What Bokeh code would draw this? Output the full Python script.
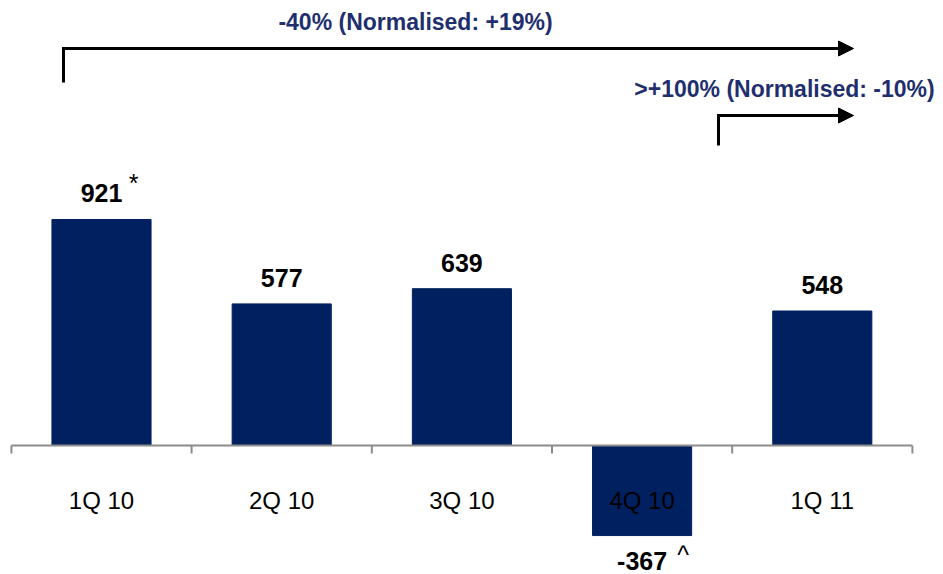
from bokeh.plotting import figure
from bokeh.models import Range1d, Arrow, NormalHead
from bokeh.core.properties import value
from bokeh.embed import file_html
from bokeh.resources import INLINE

# Quarterly result (in millions)
quarters = ["1Q 10", "2Q 10", "3Q 10", "4Q 10", "1Q 11"]
profit = [921, 577, 639, -367, 548]
notes = ["*", "", "", "^", ""]
change_year = "-40% (Normalised: +19%)"
change_quarter = ">+100% (Normalised: -10%)"

W, H = 943, 574
BAR_NAVY = "#002060"
TEXT_NAVY = "#1F2F6E"
AXIS_GREY = "#8C8C8C"
FONT = "Liberation Sans"

# frame layout in pixels: zero line, vertical scale, category pitch
ZERO_PX = 445
PX_PER_UNIT = 0.2454
CAT_PX = 180.2
FIRST_PX = 101


def xd(px):
    return (px - FIRST_PX) / CAT_PX


def yd(py):
    return (ZERO_PX - py) / PX_PER_UNIT


p = figure(width=W, height=H,
           x_range=Range1d(xd(0), xd(W)), y_range=Range1d(yd(H), yd(0)),
           min_border=0, toolbar_location=None, output_backend="svg",
           outline_line_color=None, background_fill_color="white")
p.axis.visible = False
p.grid.visible = False

idx = list(range(len(quarters)))

# bars
p.vbar(x=idx, top=profit, bottom=0, width=0.55,
       fill_color=BAR_NAVY, line_color=BAR_NAVY)

# category axis line with ticks between categories
p.segment(x0=[-0.5], y0=[0], x1=[len(quarters) - 0.5], y1=[0],
          line_color=AXIS_GREY, line_width=2)
edges = [i - 0.5 for i in range(len(quarters) + 1)]
p.segment(x0=edges, y0=[0] * len(edges), x1=edges,
          y1=[-8 / PX_PER_UNIT] * len(edges),
          line_color=AXIS_GREY, line_width=2)

# category labels
p.text(x=idx, y=[yd(500)] * len(idx), text=quarters,
       text_align="center", text_baseline="middle",
       text_font=value(FONT), text_font_size="24px", text_color="black")

# value labels above / below the bars
label_y = [v + 26 / PX_PER_UNIT if v >= 0 else v - 25 / PX_PER_UNIT for v in profit]
p.text(x=idx, y=label_y, text=[str(v) for v in profit],
       text_align="center", text_baseline="alphabetic",
       text_font=value(FONT), text_font_size="25px", text_font_style="bold",
       text_color="black")

# footnote markers next to the value labels
note_i = [i for i, n in enumerate(notes) if n]
note_x = [idx[i] for i in note_i]
note_y = [profit[i] + 36 / PX_PER_UNIT if profit[i] >= 0 else profit[i] - 19 / PX_PER_UNIT
          for i in note_i]
note_dx = [32 if profit[i] >= 0 else 41 for i in note_i]
p.text(x=note_x, y=note_y, text=[notes[i] for i in note_i], x_offset=note_dx,
       text_align="center", text_baseline="alphabetic",
       text_font=value(FONT), text_font_size="25px", text_color="black")

# change brackets with arrow heads
p.line(x=[xd(63), xd(63), xd(840)], y=[yd(82), yd(48), yd(48)],
       line_color="black", line_width=3, line_join="miter")
p.line(x=[xd(718), xd(718), xd(840)], y=[yd(145), yd(115), yd(115)],
       line_color="black", line_width=3, line_join="miter")
for ypx in (48, 115):
    p.add_layout(Arrow(x_start=xd(836), y_start=yd(ypx), x_end=xd(853), y_end=yd(ypx),
                       line_alpha=0,
                       end=NormalHead(size=15, fill_color="black", line_color="black",
                                      line_width=1)))

p.text(x=[xd(415), xd(784)], y=[yd(21), yd(88)], text=[change_year, change_quarter],
       text_align="center", text_baseline="middle",
       text_font=value(FONT), text_font_size="23px", text_font_style="bold",
       text_color=TEXT_NAVY)

open("out.html", "w").write(file_html(p, INLINE))
